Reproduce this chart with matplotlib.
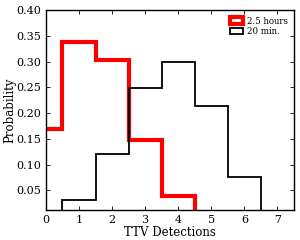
import numpy as np
import matplotlib
matplotlib.use("Agg")
import matplotlib.pyplot as plt

# TTV detection counts and probabilities
detections = [0, 1, 2, 3, 4, 5, 6, 7]
prob_long = [0.170, 0.339, 0.303, 0.147, 0.040, 0.0, 0.0, 0.0]    # 2.5 hours
prob_short = [0.0, 0.032, 0.120, 0.249, 0.300, 0.213, 0.077, 0.008]  # 20 min.
labels = ["2.5 hours", "20 min."]

plt.rcParams['font.family'] = ['DejaVu Serif']
plt.rcParams['xtick.direction'] = 'in'
plt.rcParams['ytick.direction'] = 'in'

fig = plt.figure(figsize=(3.0, 2.4), dpi=100)
ax = fig.add_axes([0.153, 0.125, 0.827, 0.833])

edges = np.arange(-0.5, 8.0, 1.0)
ax.hist(detections, bins=edges, weights=prob_long, histtype='step',
        color='red', lw=3, label=labels[0])
ax.hist(detections, bins=edges, weights=prob_short, histtype='step',
        color='black', lw=1.3, label=labels[1])

ax.set_xlim(0, 7.5)
ax.set_ylim(0.012, 0.40)
ax.set_xticks(range(0, 8))
ax.set_yticks([0.05, 0.10, 0.15, 0.20, 0.25, 0.30, 0.35, 0.40])
ax.set_yticklabels(["%.2f" % v for v in ax.get_yticks()])
ax.tick_params(top=True, right=True, labelsize=8, length=3, width=0.6)
for s in ax.spines.values():
    s.set_linewidth(1.0)

ax.set_xlabel("TTV Detections", fontsize=8.5, labelpad=1)
ax.set_ylabel("Probability", fontsize=8.5, labelpad=0)

ax.legend(loc='upper right', fontsize=6.2, frameon=False,
          handlelength=1.5, handleheight=0.8, labelspacing=0.15,
          handletextpad=0.4, borderaxespad=0.35)

fig.savefig("out.png", dpi=100)
